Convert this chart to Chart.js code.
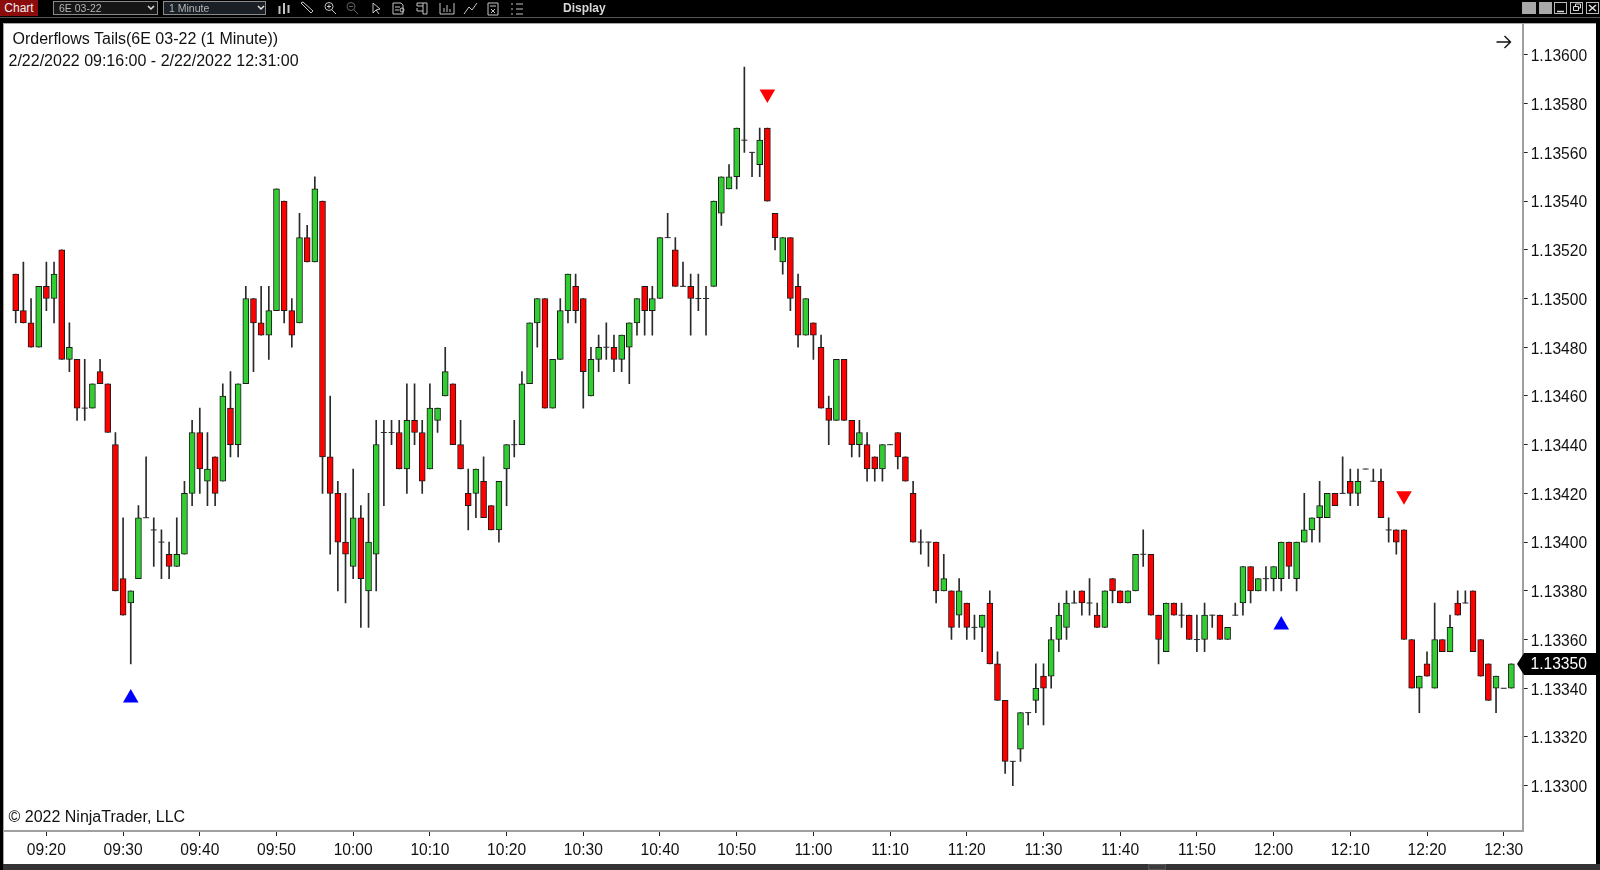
<!DOCTYPE html>
<html>
<head>
<meta charset="utf-8">
<title>Orderflows Tails</title>
<script src="https://cdn.jsdelivr.net/npm/chart.js@4"></script>
<style>
    html, body { margin: 0; padding: 0; background: #000; width: 1600px; height: 870px; overflow: hidden; font-family: "Liberation Sans", Arial, sans-serif; }
    #panel { position: absolute; left: 3px; top: 23px; width: 1593px; height: 841px; background: #fff; box-sizing: border-box; border-left: 1px solid #a8a8a8; border-top: 1px solid #a8a8a8; }
    #chart { position: absolute; left: 0; top: 0; }
    .note { position: absolute; color: #111; font-size: 16px; line-height: 18px; white-space: pre; }
    #toolbar { position: absolute; left: 0; top: 0; width: 1600px; height: 23px; }
    #sep { position: absolute; left: 0; top: 17px; width: 1600px; height: 1px; background: #555; }
    #tab { position: absolute; left: 0; top: 0; width: 38px; height: 16px; background: #8c0b0b; color: #f0f0f0; font-size: 12px; line-height: 16px; text-align: center; }
    .combo { position: absolute; top: 1px; height: 14px; box-sizing: border-box; border: 1px solid #8a8a8a; background: #161616; color: #b4b4b4; font-size: 10.5px; line-height: 12px; padding-left: 5px; }
    #display { position: absolute; left: 563px; top: 1px; color: #d8d8d8; font-size: 12px; font-weight: bold; line-height: 14px; }
    #footer { position: absolute; left: 3px; top: 864px; width: 1597px; height: 6px; background: #333; }
    #thumb { position: absolute; left: 1145px; top: 0; width: 18px; height: 6px; background: #3c3c3c; border: 1px solid #555; box-sizing: border-box; }
    svg { position: absolute; overflow: visible; }
</style>
</head>
<body>
<div id="panel"></div>
<canvas id="chart" width="1600" height="870"></canvas>

<div class="note" style="left:12.5px; top:30px;">Orderflows Tails(6E 03-22 (1 Minute))</div>
<div class="note" style="left:8.5px; top:51.5px;">2/22/2022 09:16:00 - 2/22/2022 12:31:00</div>
<div class="note" style="left:8.5px; top:808px;">© 2022 NinjaTrader, LLC</div>
<svg style="left:1496px; top:34px;" width="16" height="16"><path d="M0.5 8 H14.5 M8.5 2 L14.5 8 L8.5 14" fill="none" stroke="#111" stroke-width="1.4"/></svg>

<div id="toolbar">
    <div id="sep"></div>
    <div id="tab">Chart</div>
    <div class="combo" style="left:53px; width:105px;">6E 03-22</div>
    <div class="combo" style="left:163px; width:103px; background:#1b2026;">1 Minute</div>
    <svg style="left:0; top:0;" width="1600" height="17" fill="none" stroke="#c4c4c4" stroke-width="1">
        <path d="M148 6 L151 9 L154 6 M258 6 L261 9 L264 6" stroke="#e0e0e0" stroke-width="1.5"/>
        <path d="M279.5 6 V14 M284 3 V14 M288.5 5 V13" stroke-width="2"/>
        <path d="M301 3 L311 13 L313 11 L303 2 Z"/>
        <circle cx="329" cy="6.5" r="4"/><path d="M332 10 L336 14 M327 6.5 H331 M329 4.5 V8.5"/>
        <circle cx="351" cy="6.5" r="4" stroke="#666"/><path d="M354 10 L358 14 M349 6.5 H353" stroke="#666"/>
        <path d="M373 3 V13 L376 10 L379 14 M373 3 L380 9 L376 10"/>
        <path d="M393 3 H401 L403 5 V14 H393 Z M395 7 H400 M395 10 H399"/><circle cx="402" cy="10" r="2"/>
        <path d="M417 3 H427 V14 H423 V3 M417 3 V6 H423 M417 8 V11 H423"/>
        <path d="M440 3 V14 H454 V3 M444 12 V8 M447 12 V5 M450 12 V9" />
        <path d="M464 14 L469 7 L472 10 L477 3"/>
        <path d="M488 3 H498 V15 H488 Z M490 6 H496 M491 9 L495 13 M495 9 L491 13"/>
        <path d="M511 4 H513 M511 9 H513 M511 14 H513 M516 4 H523 M516 9 H523 M516 14 H523"/>
    </svg>
    <div id="display">Display</div>
    <svg style="left:0; top:0;" width="1600" height="17">
        <rect x="1522" y="2" width="14" height="12" fill="#a8a8a8"/>
        <rect x="1539" y="2" width="13" height="12" fill="#a8a8a8"/>
        <rect x="1554.5" y="2.5" width="12" height="11" fill="none" stroke="#bbb"/>
        <path d="M1557 11.5 H1564" stroke="#ddd" stroke-width="1.5"/>
        <rect x="1570.5" y="2.5" width="12" height="11" fill="none" stroke="#bbb"/>
        <path d="M1573.5 6.5 h5 v4 h-5 Z M1575.5 6 v-2 h5 v4 h-2" fill="none" stroke="#ddd"/>
        <rect x="1586.5" y="2.5" width="12" height="11" fill="none" stroke="#bbb"/>
        <path d="M1589 5 L1596 11 M1596 5 L1589 11" stroke="#ddd" stroke-width="1.6"/>
    </svg>
</div>
<div id="footer"><div id="thumb"></div></div>

<script>
// Bar times, 2/22/2022
const times = [
    '09:16','09:17','09:18','09:19','09:20','09:21','09:22','09:23','09:24','09:25',
    '09:26','09:27','09:28','09:29','09:30','09:31','09:32','09:33','09:34','09:35',
    '09:36','09:37','09:38','09:39','09:40','09:41','09:42','09:43','09:44','09:45',
    '09:46','09:47','09:48','09:49','09:50','09:51','09:52','09:53','09:54','09:55',
    '09:56','09:57','09:58','09:59','10:00','10:01','10:02','10:03','10:04','10:05',
    '10:06','10:07','10:08','10:09','10:10','10:11','10:12','10:13','10:14','10:15',
    '10:16','10:17','10:18','10:19','10:20','10:21','10:22','10:23','10:24','10:25',
    '10:26','10:27','10:28','10:29','10:30','10:31','10:32','10:33','10:34','10:35',
    '10:36','10:37','10:38','10:39','10:40','10:41','10:42','10:43','10:44','10:45',
    '10:46','10:47','10:48','10:49','10:50','10:51','10:52','10:53','10:54','10:55',
    '10:56','10:57','10:58','10:59','11:00','11:01','11:02','11:03','11:04','11:05',
    '11:06','11:07','11:08','11:09','11:10','11:11','11:12','11:13','11:14','11:15',
    '11:16','11:17','11:18','11:19','11:20','11:21','11:22','11:23','11:24','11:25',
    '11:26','11:27','11:28','11:29','11:30','11:31','11:32','11:33','11:34','11:35',
    '11:36','11:37','11:38','11:39','11:40','11:41','11:42','11:43','11:44','11:45',
    '11:46','11:47','11:48','11:49','11:50','11:51','11:52','11:53','11:54','11:55',
    '11:56','11:57','11:58','11:59','12:00','12:01','12:02','12:03','12:04','12:05',
    '12:06','12:07','12:08','12:09','12:10','12:11','12:12','12:13','12:14','12:15',
    '12:16','12:17','12:18','12:19','12:20','12:21','12:22','12:23','12:24','12:25',
    '12:26','12:27','12:28','12:29','12:30','12:31'
];

const opens = [
    1.13510,1.13495,1.13490,1.13480,1.13505,1.13500,1.13520,1.13475,1.13475,1.13455,
    1.13455,1.13470,1.13465,1.13440,1.13385,1.13375,1.13385,1.13410,1.13405,1.13400,
    1.13395,1.13390,1.13395,1.13420,1.13445,1.13425,1.13435,1.13425,1.13455,1.13440,
    1.13465,1.13500,1.13490,1.13485,1.13495,1.13540,1.13495,1.13490,1.13525,1.13515,
    1.13540,1.13435,1.13420,1.13400,1.13390,1.13410,1.13380,1.13395,1.13445,1.13445,
    1.13445,1.13430,1.13450,1.13445,1.13430,1.13450,1.13460,1.13465,1.13440,1.13420,
    1.13420,1.13425,1.13415,1.13405,1.13430,1.13440,1.13440,1.13465,1.13490,1.13500,
    1.13455,1.13475,1.13495,1.13505,1.13500,1.13460,1.13475,1.13480,1.13480,1.13475,
    1.13480,1.13490,1.13505,1.13495,1.13500,1.13525,1.13520,1.13505,1.13505,1.13500,
    1.13500,1.13505,1.13535,1.13545,1.13550,1.13565,1.13560,1.13555,1.13570,1.13535,
    1.13515,1.13525,1.13505,1.13485,1.13490,1.13480,1.13455,1.13450,1.13475,1.13450,
    1.13440,1.13440,1.13435,1.13430,1.13440,1.13445,1.13435,1.13420,1.13400,1.13400,
    1.13400,1.13380,1.13380,1.13370,1.13375,1.13365,1.13365,1.13375,1.13350,1.13335,
    1.13310,1.13315,1.13330,1.13335,1.13345,1.13345,1.13360,1.13365,1.13375,1.13380,
    1.13375,1.13370,1.13365,1.13385,1.13380,1.13375,1.13380,1.13395,1.13395,1.13370,
    1.13355,1.13375,1.13370,1.13370,1.13360,1.13360,1.13370,1.13370,1.13360,1.13370,
    1.13375,1.13390,1.13380,1.13385,1.13385,1.13385,1.13400,1.13385,1.13400,1.13405,
    1.13410,1.13410,1.13420,1.13420,1.13425,1.13420,1.13430,1.13425,1.13425,1.13405,
    1.13405,1.13405,1.13360,1.13340,1.13350,1.13340,1.13360,1.13355,1.13375,1.13375,
    1.13380,1.13360,1.13350,1.13340,1.13340,1.13340
];

const highs = [
    1.13510,1.13515,1.13500,1.13505,1.13515,1.13515,1.13520,1.13490,1.13475,1.13475,
    1.13465,1.13475,1.13465,1.13445,1.13410,1.13380,1.13415,1.13435,1.13410,1.13405,
    1.13400,1.13410,1.13425,1.13450,1.13455,1.13445,1.13435,1.13465,1.13470,1.13465,
    1.13505,1.13500,1.13505,1.13505,1.13545,1.13540,1.13500,1.13535,1.13530,1.13550,
    1.13540,1.13460,1.13425,1.13420,1.13430,1.13415,1.13420,1.13450,1.13450,1.13450,
    1.13450,1.13465,1.13465,1.13450,1.13465,1.13455,1.13480,1.13465,1.13450,1.13430,
    1.13430,1.13435,1.13415,1.13425,1.13440,1.13450,1.13470,1.13490,1.13500,1.13500,
    1.13475,1.13500,1.13510,1.13510,1.13500,1.13480,1.13485,1.13490,1.13485,1.13485,
    1.13490,1.13500,1.13505,1.13505,1.13525,1.13535,1.13525,1.13515,1.13510,1.13510,
    1.13505,1.13540,1.13550,1.13555,1.13570,1.13595,1.13560,1.13570,1.13570,1.13535,
    1.13525,1.13525,1.13510,1.13500,1.13490,1.13485,1.13460,1.13475,1.13475,1.13450,
    1.13450,1.13445,1.13435,1.13440,1.13440,1.13445,1.13435,1.13425,1.13405,1.13400,
    1.13400,1.13395,1.13380,1.13385,1.13375,1.13370,1.13370,1.13380,1.13355,1.13335,
    1.13310,1.13330,1.13330,1.13350,1.13350,1.13365,1.13375,1.13380,1.13380,1.13380,
    1.13385,1.13375,1.13380,1.13385,1.13380,1.13380,1.13395,1.13405,1.13395,1.13370,
    1.13375,1.13375,1.13375,1.13370,1.13370,1.13375,1.13370,1.13370,1.13365,1.13375,
    1.13390,1.13390,1.13385,1.13390,1.13390,1.13400,1.13400,1.13400,1.13420,1.13410,
    1.13425,1.13420,1.13420,1.13435,1.13430,1.13430,1.13430,1.13430,1.13430,1.13410,
    1.13405,1.13405,1.13360,1.13345,1.13355,1.13375,1.13360,1.13370,1.13380,1.13380,
    1.13380,1.13360,1.13350,1.13345,1.13340,1.13350
];

const lows = [
    1.13490,1.13490,1.13480,1.13480,1.13495,1.13490,1.13475,1.13470,1.13450,1.13450,
    1.13455,1.13465,1.13445,1.13380,1.13370,1.13350,1.13385,1.13410,1.13390,1.13385,
    1.13385,1.13390,1.13395,1.13415,1.13420,1.13415,1.13415,1.13425,1.13435,1.13435,
    1.13465,1.13470,1.13485,1.13475,1.13495,1.13490,1.13480,1.13490,1.13515,1.13515,
    1.13420,1.13395,1.13380,1.13375,1.13385,1.13365,1.13365,1.13380,1.13415,1.13440,
    1.13430,1.13420,1.13440,1.13420,1.13430,1.13445,1.13460,1.13440,1.13430,1.13405,
    1.13410,1.13410,1.13405,1.13400,1.13415,1.13435,1.13440,1.13465,1.13480,1.13455,
    1.13455,1.13475,1.13490,1.13490,1.13455,1.13460,1.13470,1.13475,1.13470,1.13470,
    1.13465,1.13485,1.13485,1.13485,1.13500,1.13525,1.13505,1.13505,1.13485,1.13495,
    1.13485,1.13505,1.13530,1.13545,1.13545,1.13560,1.13550,1.13550,1.13540,1.13520,
    1.13510,1.13495,1.13480,1.13485,1.13475,1.13455,1.13440,1.13450,1.13450,1.13435,
    1.13435,1.13425,1.13425,1.13425,1.13440,1.13430,1.13425,1.13400,1.13395,1.13390,
    1.13375,1.13380,1.13360,1.13365,1.13360,1.13360,1.13355,1.13350,1.13335,1.13305,
    1.13300,1.13310,1.13325,1.13330,1.13325,1.13340,1.13355,1.13360,1.13375,1.13370,
    1.13370,1.13365,1.13365,1.13375,1.13375,1.13375,1.13380,1.13390,1.13370,1.13350,
    1.13355,1.13370,1.13365,1.13360,1.13355,1.13355,1.13365,1.13360,1.13360,1.13370,
    1.13370,1.13375,1.13380,1.13380,1.13380,1.13380,1.13385,1.13380,1.13400,1.13400,
    1.13400,1.13410,1.13415,1.13420,1.13415,1.13415,1.13430,1.13425,1.13410,1.13400,
    1.13395,1.13360,1.13340,1.13330,1.13345,1.13340,1.13355,1.13355,1.13370,1.13375,
    1.13355,1.13345,1.13335,1.13330,1.13340,1.13340
];

const closes = [
    1.13495,1.13490,1.13480,1.13505,1.13500,1.13510,1.13475,1.13480,1.13455,1.13455,
    1.13465,1.13465,1.13445,1.13380,1.13370,1.13380,1.13410,1.13410,1.13405,1.13400,
    1.13390,1.13395,1.13420,1.13445,1.13430,1.13430,1.13420,1.13460,1.13440,1.13465,
    1.13500,1.13490,1.13485,1.13495,1.13545,1.13495,1.13485,1.13525,1.13515,1.13545,
    1.13435,1.13420,1.13400,1.13395,1.13410,1.13385,1.13400,1.13440,1.13445,1.13445,
    1.13430,1.13450,1.13445,1.13425,1.13455,1.13455,1.13470,1.13440,1.13430,1.13415,
    1.13430,1.13410,1.13405,1.13425,1.13440,1.13440,1.13465,1.13490,1.13500,1.13455,
    1.13475,1.13495,1.13510,1.13495,1.13470,1.13475,1.13480,1.13480,1.13475,1.13485,
    1.13490,1.13500,1.13495,1.13500,1.13525,1.13525,1.13505,1.13505,1.13500,1.13500,
    1.13500,1.13540,1.13550,1.13550,1.13570,1.13565,1.13560,1.13565,1.13540,1.13525,
    1.13525,1.13500,1.13485,1.13500,1.13485,1.13455,1.13450,1.13475,1.13450,1.13440,
    1.13445,1.13430,1.13430,1.13440,1.13440,1.13435,1.13425,1.13400,1.13400,1.13400,
    1.13380,1.13385,1.13365,1.13380,1.13365,1.13365,1.13370,1.13350,1.13335,1.13310,
    1.13310,1.13330,1.13330,1.13340,1.13340,1.13360,1.13370,1.13375,1.13375,1.13375,
    1.13375,1.13365,1.13380,1.13380,1.13375,1.13380,1.13395,1.13395,1.13370,1.13360,
    1.13375,1.13370,1.13370,1.13360,1.13360,1.13370,1.13370,1.13360,1.13365,1.13370,
    1.13390,1.13380,1.13385,1.13385,1.13390,1.13400,1.13390,1.13400,1.13405,1.13410,
    1.13415,1.13420,1.13415,1.13420,1.13420,1.13425,1.13430,1.13425,1.13410,1.13405,
    1.13400,1.13360,1.13340,1.13345,1.13345,1.13360,1.13355,1.13365,1.13370,1.13375,
    1.13355,1.13345,1.13335,1.13345,1.13340,1.13350
];

// Orderflow tail signals
const upSignalTimes = ['09:31', '12:01'];
const upSignalPrices = [1.13336, 1.13366];
const downSignalTimes = ['10:54', '12:17'];
const downSignalPrices = [1.13584, 1.13419];

const timeTicks = ['09:20','09:30','09:40','09:50','10:00','10:10','10:20','10:30','10:40','10:50',
    '11:00','11:10','11:20','11:30','11:40','11:50','12:00','12:10','12:20','12:30'];
const priceTicks = [1.13300,1.13320,1.13340,1.13360,1.13380,1.13400,1.13420,1.13440,
    1.13460,1.13480,1.13500,1.13520,1.13540,1.13560,1.13580,1.13600];

const toMinutes = (t) => {
    const [h, m] = t.split(':');
    return Number(h) * 60 + Number(m);
};
const toTime = (v) => {
    const h = Math.floor(v / 60);
    const m = Math.round(v - h * 60);
    return String(h).padStart(2, '0') + ':' + String(m).padStart(2, '0');
};

const barMinutes = times.map(toMinutes);
const isDoji = (i) => opens[i] === closes[i];

// Bodies and wicks are floating bars, flat candles are drawn as dashes
const wicks = times.map((t, i) => ({ x: barMinutes[i], y: [lows[i], highs[i]] }));
const bodies = times.map((t, i) => ({ x: barMinutes[i], y: [opens[i], closes[i]] })).filter((b, i) => !isDoji(i));
const dojis = times.map((t, i) => ({ x: barMinutes[i], y: opens[i] })).filter((b, i) => isDoji(i));

const lastPriceLabel = {
    id: 'lastPriceLabel',
    afterDatasetsDraw(chart) {
        const { ctx } = chart;
        const last = closes[closes.length - 1];
        const y = chart.scales.y.getPixelForValue(last);
        ctx.save();
        ctx.fillStyle = '#000';
        ctx.beginPath();
        ctx.moveTo(1517, y);
        ctx.lineTo(1524, y - 11);
        ctx.lineTo(1596, y - 11);
        ctx.lineTo(1596, y + 11);
        ctx.lineTo(1524, y + 11);
        ctx.closePath();
        ctx.fill();
        ctx.fillStyle = '#fff';
        ctx.font = '15.6px "Liberation Sans"';
        ctx.textBaseline = 'middle';
        ctx.fillText(last.toFixed(5), 1530.5, y + 1);
        ctx.restore();
    }
};

new Chart(document.getElementById('chart'), {
    type: 'bar',
    data: {
        datasets: [
            {
                label: 'Wicks',
                data: wicks,
                backgroundColor: '#2a2a2a',
                barThickness: 1,
                grouped: false,
                order: 3
            },
            {
                label: 'Bodies',
                data: bodies,
                backgroundColor: (c) => c.raw && c.raw.y[1] > c.raw.y[0] ? '#32cd32' : '#ff0000',
                borderColor: '#1a1a1a',
                borderWidth: 1,
                borderSkipped: false,
                barThickness: 6,
                grouped: false,
                order: 2
            },
            {
                type: 'line',
                label: 'Flat',
                data: dojis,
                showLine: false,
                pointStyle: 'line',
                pointRadius: 3,
                pointBorderColor: '#2a2a2a',
                pointBorderWidth: 1,
                order: 1
            },
            {
                type: 'line',
                label: 'Up tails',
                data: upSignalTimes.map((t, i) => ({ x: toMinutes(t), y: upSignalPrices[i] })),
                showLine: false,
                pointStyle: 'triangle',
                pointRadius: 9,
                pointBorderWidth: 0,
                pointBackgroundColor: '#0000ff',
                order: 0
            },
            {
                type: 'line',
                label: 'Down tails',
                data: downSignalTimes.map((t, i) => ({ x: toMinutes(t), y: downSignalPrices[i] })),
                showLine: false,
                pointStyle: 'triangle',
                pointRotation: 180,
                pointRadius: 9,
                pointBorderWidth: 0,
                pointBackgroundColor: '#ff0000',
                order: 0
            }
        ]
    },
    options: {
        responsive: false,
        animation: false,
        events: [],
        layout: { autoPadding: false, padding: { left: 4, top: 24, right: 0, bottom: 6 } },
        plugins: {
            legend: { display: false },
            tooltip: { enabled: false }
        },
        scales: {
            x: {
                type: 'linear',
                offset: false,
                min: 554.474,
                max: 752.476,
                afterBuildTicks: (scale) => { scale.ticks = timeTicks.map((t) => ({ value: toMinutes(t) })); },
                afterFit: (scale) => {
                    scale.height = 33;
                    scale.paddingLeft = 0;
                    scale.paddingRight = 0;
                },
                border: { color: '#a0a0a0', width: 2 },
                grid: { offset: false, drawOnChartArea: false, drawTicks: true, tickLength: 5, tickColor: '#222' },
                ticks: {
                    autoSkip: false,
                    maxRotation: 0,
                    padding: 5,
                    color: '#111',
                    font: { family: '"Liberation Sans"', size: 15.6 },
                    callback: (v) => toTime(v)
                }
            },
            y: {
                position: 'right',
                min: 1.132814,
                max: 1.136127,
                afterBuildTicks: (scale) => { scale.ticks = priceTicks.map((p) => ({ value: p })); },
                afterFit: (scale) => {
                    scale.width = 77.3;
                    scale.paddingTop = 0;
                    scale.paddingBottom = 0;
                },
                border: { color: '#a0a0a0', width: 2 },
                grid: { drawOnChartArea: false, drawTicks: true, tickLength: 5, tickColor: '#222' },
                ticks: {
                    padding: 3,
                    labelOffset: 2,
                    color: '#111',
                    font: { family: '"Liberation Sans"', size: 15.6 },
                    callback: (v) => v.toFixed(5)
                }
            }
        }
    },
    plugins: [lastPriceLabel]
});
</script>
</body>
</html>
